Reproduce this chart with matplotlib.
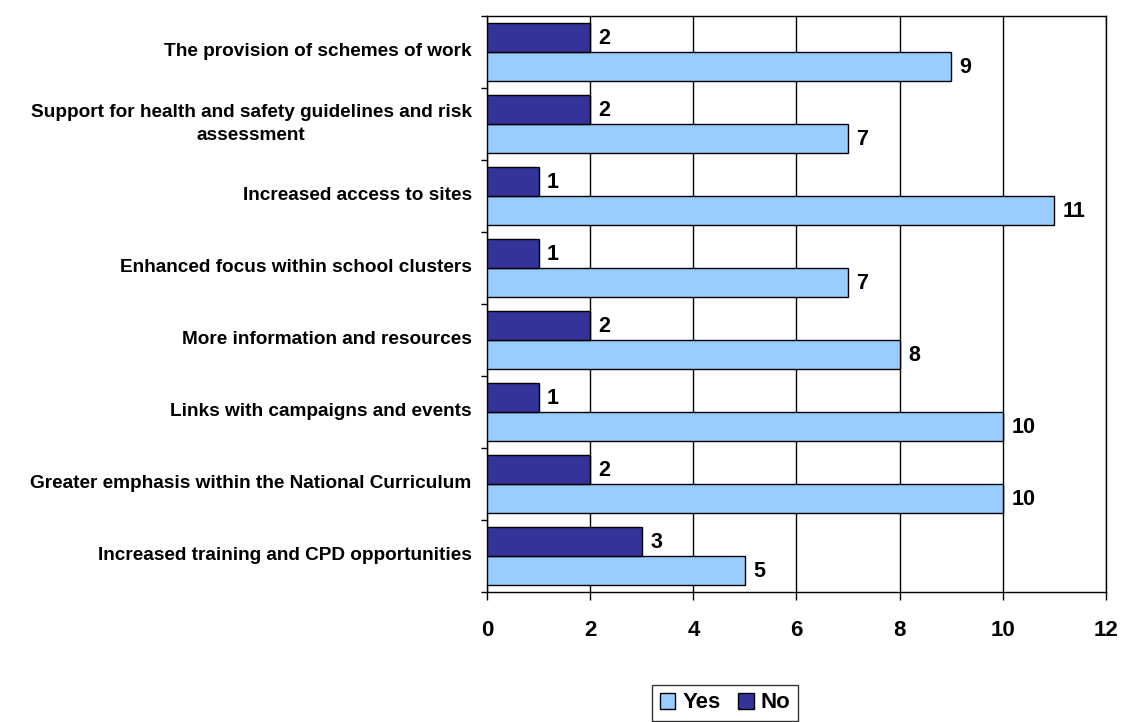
import matplotlib
matplotlib.use("Agg")
import matplotlib.pyplot as plt
import numpy as np

categories = [
    "Increased training and CPD opportunities",
    "Greater emphasis within the National Curriculum",
    "Links with campaigns and events",
    "More information and resources",
    "Enhanced focus within school clusters",
    "Increased access to sites",
    "Support for health and safety guidelines and risk\nassessment",
    "The provision of schemes of work",
]
yes_values = [5, 10, 10, 8, 7, 11, 7, 9]
no_values = [3, 2, 1, 2, 1, 1, 2, 2]
x_ticks = [0, 2, 4, 6, 8, 10, 12]

plt.rcParams['font.family'] = ['Liberation Sans', 'DejaVu Sans']

fig = plt.figure(figsize=(11.22, 7.22), dpi=100)
ax = fig.add_axes([487/1122, 1-592/722, (1106-487)/1122, (592-16)/722])

y = np.arange(len(categories))
h = 0.4
bars_yes = ax.barh(y - h/2, yes_values, height=h, color='#99CCFF', edgecolor='black', linewidth=1, label='Yes', zorder=3)
bars_no = ax.barh(y + h/2, no_values, height=h, color='#333399', edgecolor='black', linewidth=1, label='No', zorder=3)

for bars in (bars_yes, bars_no):
    for b in bars:
        w = b.get_width()
        ax.annotate(f"{int(w)}", (w, b.get_y() + b.get_height()/2), xytext=(6, -1),
                    textcoords='offset points', ha='left', va='center',
                    fontsize=15.5, fontweight='bold')

ax.set_xlim(0, 12)
ax.set_ylim(-0.5, len(categories) - 0.5)
ax.set_xticks(x_ticks)
ax.set_xticklabels([str(t) for t in x_ticks], fontsize=16, fontweight='bold')
ax.tick_params(axis='x', direction='out', length=6, width=1, pad=14)

ax.set_yticks(np.arange(-0.5, len(categories), 1.0))
ax.set_yticklabels([])
ax.tick_params(axis='y', which='major', direction='out', length=4.5, width=1)

for yi, cat in zip(y, categories):
    ax.annotate(cat, (0, yi), xycoords=('axes fraction', 'data'), xytext=(-11, 0),
                textcoords='offset points', ha='right', va='center',
                multialignment='center', fontsize=13.7, fontweight='bold',
                linespacing=1.5)

ax.xaxis.grid(True, color='black', linewidth=1, zorder=0)
ax.set_axisbelow(True)
for s in ax.spines.values():
    s.set_linewidth(1)
    s.set_color('black')

leg = fig.legend(handles=[bars_yes, bars_no], labels=['Yes', 'No'], loc='center',
                 bbox_to_anchor=(725/1122, 1-703/722), ncol=2,
                 prop={'weight': 'bold', 'size': 16}, frameon=True, fancybox=False,
                 edgecolor='black', handlelength=0.7, handleheight=0.7,
                 handletextpad=0.3, columnspacing=0.8, borderpad=0.35, borderaxespad=0)
leg.get_frame().set_linewidth(1)

fig.savefig("out.png", dpi=100)
